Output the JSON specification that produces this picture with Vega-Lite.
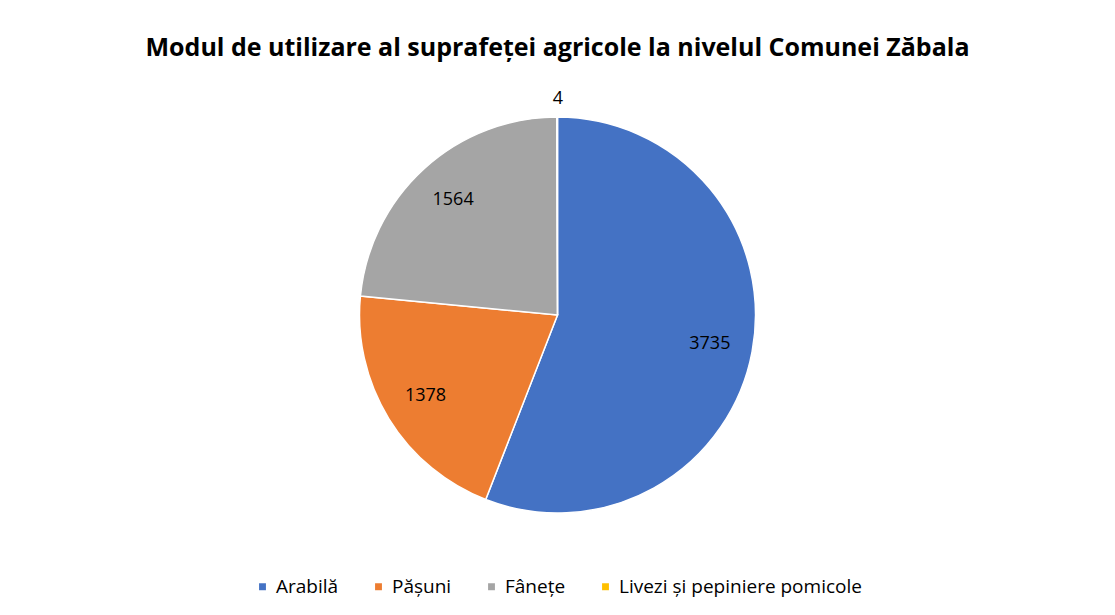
{
  "$schema": "https://vega.github.io/schema/vega-lite/v6.json",
  "width": 1115,
  "height": 615,
  "autosize": {"type": "fit", "contains": "padding"},
  "padding": {"top": 36, "bottom": 18, "left": 10, "right": 10},
  "background": "white",
  "title": {
    "text": "Modul de utilizare al suprafeței agricole la nivelul Comunei Zăbala",
    "font": "Open Sans",
    "fontSize": 25,
    "fontWeight": "bold",
    "color": "#000000",
    "anchor": "middle",
    "offset": 14
  },
  "data": {
    "values": [
      {"categorie": "Arabilă", "valoare": 3735, "ordine": 1},
      {"categorie": "Pășuni", "valoare": 1378, "ordine": 2},
      {"categorie": "Fânețe", "valoare": 1564, "ordine": 3},
      {"categorie": "Livezi și pepiniere pomicole", "valoare": 4, "ordine": 4}
    ]
  },
  "encoding": {
    "theta": {"field": "valoare", "type": "quantitative", "stack": true},
    "order": {"field": "ordine", "type": "quantitative"}
  },
  "layer": [
    {
      "mark": {"type": "arc", "outerRadius": 198, "stroke": "white", "strokeWidth": 1.5},
      "encoding": {
        "color": {
          "field": "categorie",
          "type": "nominal",
          "sort": ["Arabilă", "Pășuni", "Fânețe", "Livezi și pepiniere pomicole"],
          "scale": {
            "domain": ["Arabilă", "Pășuni", "Fânețe", "Livezi și pepiniere pomicole"],
            "range": ["#4472C4", "#ED7D31", "#A5A5A5", "#FFC000"]
          },
          "legend": {
            "orient": "bottom",
            "direction": "horizontal",
            "title": null,
            "symbolType": "square",
            "symbolSize": 70,
            "labelFont": "Open Sans",
            "labelFontSize": 19,
            "labelLimit": 400,
            "labelColor": "#000000",
            "columnPadding": 30,
            "offset": 22
          }
        }
      }
    },
    {
      "transform": [{"filter": "datum.valoare >= 100"}],
      "mark": {"type": "text", "font": "Open Sans", "fontSize": 18, "radius": 155},
      "encoding": {
        "text": {"field": "valoare", "type": "quantitative"},
        "color": {"value": "#000000"}
      }
    },
    {
      "transform": [{"filter": "datum.valoare < 100"}],
      "mark": {"type": "text", "font": "Open Sans", "fontSize": 18, "radius": 216},
      "encoding": {
        "text": {"field": "valoare", "type": "quantitative"},
        "color": {"value": "#000000"}
      }
    }
  ],
  "config": {
    "view": {"stroke": null},
    "legend": {"layout": {"bottom": {"anchor": "middle"}}}
  }
}
